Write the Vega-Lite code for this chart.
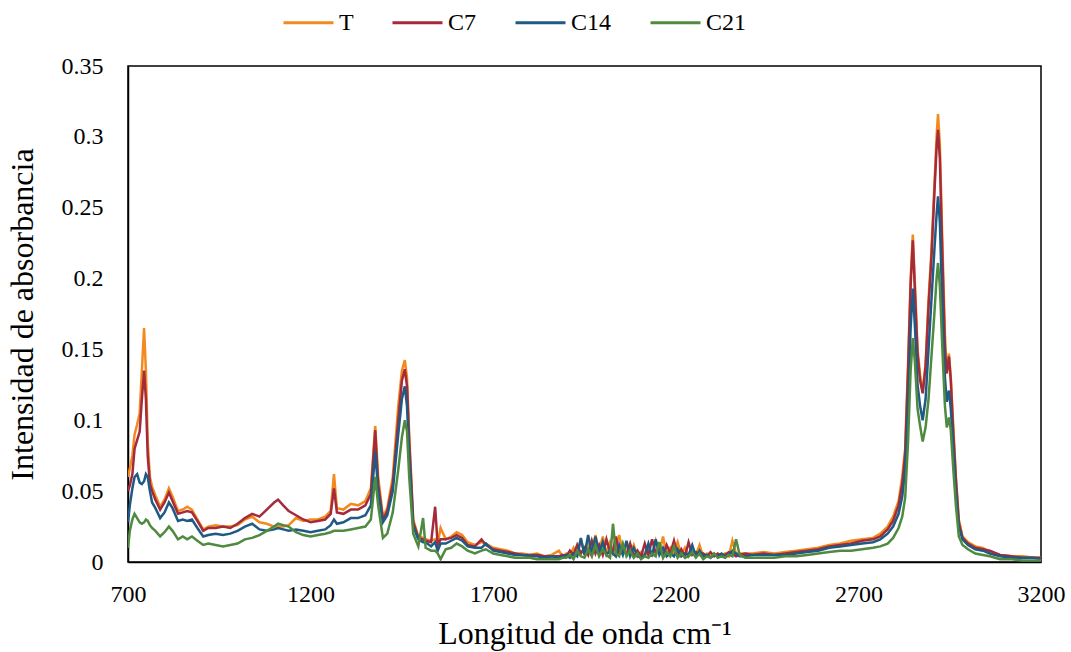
{
  "$schema": "https://vega.github.io/schema/vega-lite/v6.json",
  "width": 913,
  "height": 496,
  "autosize": {"type": "none"},
  "padding": {"left": 128, "top": 66, "right": 30, "bottom": 90},
  "background": "white",
  "config": {
    "font": "Liberation Serif",
    "view": {"stroke": "#000000", "strokeWidth": 1.5},
    "axis": {"grid": false, "domainColor": "#000000", "domainWidth": 1.5, "ticks": false, "labelFont": "Liberation Serif", "labelFontSize": 24, "labelColor": "#000000", "labelFlush": false, "labelOverlap": false, "titleFont": "Liberation Serif", "titleFontSize": 32, "titleFontWeight": "normal", "titleColor": "#000000"}
  },
  "data": {
    "values": [
      {"w":700,"T":0.060,"C7":0.050,"C14":0.028,"C21":0.010},
      {"w":705,"T":0.066,"C7":0.054,"C14":0.040,"C21":0.022},
      {"w":712,"T":0.075,"C7":0.062,"C14":0.052,"C21":0.030},
      {"w":718,"T":0.090,"C7":0.080,"C14":0.060,"C21":0.034},
      {"w":725,"T":0.097,"C7":0.086,"C14":0.062,"C21":0.031},
      {"w":732,"T":0.105,"C7":0.092,"C14":0.056,"C21":0.028},
      {"w":738,"T":0.135,"C7":0.115,"C14":0.055,"C21":0.027},
      {"w":744,"T":0.165,"C7":0.135,"C14":0.057,"C21":0.028},
      {"w":749,"T":0.135,"C7":0.115,"C14":0.062,"C21":0.030},
      {"w":754,"T":0.085,"C7":0.075,"C14":0.060,"C21":0.029},
      {"w":760,"T":0.060,"C7":0.055,"C14":0.050,"C21":0.026},
      {"w":766,"T":0.053,"C7":0.050,"C14":0.042,"C21":0.024},
      {"w":775,"T":0.047,"C7":0.044,"C14":0.038,"C21":0.022},
      {"w":788,"T":0.039,"C7":0.037,"C14":0.031,"C21":0.018},
      {"w":800,"T":0.044,"C7":0.042,"C14":0.035,"C21":0.021},
      {"w":812,"T":0.052,"C7":0.049,"C14":0.042,"C21":0.025},
      {"w":822,"T":0.046,"C7":0.043,"C14":0.038,"C21":0.022},
      {"w":837,"T":0.036,"C7":0.034,"C14":0.029,"C21":0.016},
      {"w":850,"T":0.037,"C7":0.035,"C14":0.030,"C21":0.018},
      {"w":862,"T":0.039,"C7":0.036,"C14":0.029,"C21":0.016},
      {"w":875,"T":0.037,"C7":0.035,"C14":0.030,"C21":0.018},
      {"w":890,"T":0.030,"C7":0.029,"C14":0.024,"C21":0.015},
      {"w":906,"T":0.023,"C7":0.022,"C14":0.018,"C21":0.012},
      {"w":920,"T":0.025,"C7":0.024,"C14":0.019,"C21":0.013},
      {"w":940,"T":0.026,"C7":0.024,"C14":0.020,"C21":0.012},
      {"w":960,"T":0.025,"C7":0.025,"C14":0.019,"C21":0.011},
      {"w":980,"T":0.025,"C7":0.024,"C14":0.020,"C21":0.012},
      {"w":1000,"T":0.026,"C7":0.027,"C14":0.022,"C21":0.013},
      {"w":1020,"T":0.030,"C7":0.031,"C14":0.025,"C21":0.016},
      {"w":1040,"T":0.032,"C7":0.034,"C14":0.027,"C21":0.017},
      {"w":1060,"T":0.028,"C7":0.032,"C14":0.023,"C21":0.019},
      {"w":1080,"T":0.027,"C7":0.037,"C14":0.022,"C21":0.022},
      {"w":1100,"T":0.025,"C7":0.042,"C14":0.023,"C21":0.025},
      {"w":1111,"T":0.025,"C7":0.044,"C14":0.024,"C21":0.027},
      {"w":1125,"T":0.025,"C7":0.040,"C14":0.023,"C21":0.026},
      {"w":1140,"T":0.026,"C7":0.036,"C14":0.022,"C21":0.025},
      {"w":1160,"T":0.031,"C7":0.033,"C14":0.023,"C21":0.021},
      {"w":1180,"T":0.029,"C7":0.030,"C14":0.022,"C21":0.019},
      {"w":1200,"T":0.030,"C7":0.028,"C14":0.021,"C21":0.018},
      {"w":1220,"T":0.030,"C7":0.029,"C14":0.022,"C21":0.019},
      {"w":1240,"T":0.032,"C7":0.030,"C14":0.023,"C21":0.020},
      {"w":1255,"T":0.036,"C7":0.034,"C14":0.026,"C21":0.021},
      {"w":1264,"T":0.062,"C7":0.052,"C14":0.030,"C21":0.022},
      {"w":1272,"T":0.038,"C7":0.035,"C14":0.027,"C21":0.022},
      {"w":1290,"T":0.037,"C7":0.034,"C14":0.028,"C21":0.022},
      {"w":1310,"T":0.041,"C7":0.037,"C14":0.031,"C21":0.023},
      {"w":1330,"T":0.040,"C7":0.037,"C14":0.031,"C21":0.024},
      {"w":1350,"T":0.043,"C7":0.040,"C14":0.033,"C21":0.025},
      {"w":1365,"T":0.052,"C7":0.048,"C14":0.040,"C21":0.030},
      {"w":1377,"T":0.096,"C7":0.093,"C14":0.078,"C21":0.060},
      {"w":1385,"T":0.060,"C7":0.055,"C14":0.050,"C21":0.040},
      {"w":1398,"T":0.032,"C7":0.030,"C14":0.028,"C21":0.017},
      {"w":1410,"T":0.038,"C7":0.036,"C14":0.033,"C21":0.020},
      {"w":1425,"T":0.060,"C7":0.055,"C14":0.050,"C21":0.035},
      {"w":1440,"T":0.110,"C7":0.100,"C14":0.090,"C21":0.065},
      {"w":1450,"T":0.135,"C7":0.128,"C14":0.115,"C21":0.088},
      {"w":1458,"T":0.1425,"C7":0.136,"C14":0.124,"C21":0.100},
      {"w":1464,"T":0.130,"C7":0.124,"C14":0.110,"C21":0.092},
      {"w":1470,"T":0.090,"C7":0.085,"C14":0.075,"C21":0.060},
      {"w":1481,"T":0.030,"C7":0.028,"C14":0.025,"C21":0.020},
      {"w":1495,"T":0.018,"C7":0.017,"C14":0.016,"C21":0.011},
      {"w":1508,"T":0.017,"C7":0.016,"C14":0.014,"C21":0.031},
      {"w":1515,"T":0.016,"C7":0.015,"C14":0.014,"C21":0.010},
      {"w":1530,"T":0.015,"C7":0.014,"C14":0.011,"C21":0.008},
      {"w":1541,"T":0.016,"C7":0.039,"C14":0.014,"C21":0.008},
      {"w":1548,"T":0.013,"C7":0.012,"C14":0.008,"C21":0.006},
      {"w":1556,"T":0.024,"C7":0.016,"C14":0.013,"C21":0.002},
      {"w":1570,"T":0.016,"C7":0.016,"C14":0.013,"C21":0.009},
      {"w":1585,"T":0.018,"C7":0.017,"C14":0.015,"C21":0.010},
      {"w":1600,"T":0.021,"C7":0.019,"C14":0.017,"C21":0.013},
      {"w":1615,"T":0.019,"C7":0.017,"C14":0.015,"C21":0.011},
      {"w":1630,"T":0.014,"C7":0.012,"C14":0.011,"C21":0.008},
      {"w":1650,"T":0.012,"C7":0.011,"C14":0.010,"C21":0.006},
      {"w":1668,"T":0.014,"C7":0.016,"C14":0.010,"C21":0.008},
      {"w":1680,"T":0.013,"C7":0.012,"C14":0.013,"C21":0.009},
      {"w":1700,"T":0.010,"C7":0.009,"C14":0.008,"C21":0.006},
      {"w":1720,"T":0.009,"C7":0.008,"C14":0.007,"C21":0.005},
      {"w":1740,"T":0.008,"C7":0.007,"C14":0.006,"C21":0.004},
      {"w":1760,"T":0.006,"C7":0.006,"C14":0.005,"C21":0.003},
      {"w":1780,"T":0.006,"C7":0.005,"C14":0.005,"C21":0.003},
      {"w":1800,"T":0.005,"C7":0.005,"C14":0.004,"C21":0.003},
      {"w":1820,"T":0.006,"C7":0.005,"C14":0.004,"C21":0.002},
      {"w":1840,"T":0.004,"C7":0.004,"C14":0.003,"C21":0.002},
      {"w":1860,"T":0.005,"C7":0.004,"C14":0.004,"C21":0.002},
      {"w":1880,"T":0.008,"C7":0.004,"C14":0.003,"C21":0.002},
      {"w":1890,"T":0.004,"C7":0.005,"C14":0.004,"C21":0.003},
      {"w":1900,"T":0.006,"C7":0.004,"C14":0.005,"C21":0.003},
      {"w":1910,"T":0.004,"C7":0.008,"C14":0.003,"C21":0.005},
      {"w":1920,"T":0.010,"C7":0.005,"C14":0.006,"C21":0.002},
      {"w":1930,"T":0.005,"C7":0.012,"C14":0.004,"C21":0.008},
      {"w":1940,"T":0.016,"C7":0.006,"C14":0.017,"C21":0.004},
      {"w":1950,"T":0.006,"C7":0.010,"C14":0.005,"C21":0.003},
      {"w":1960,"T":0.012,"C7":0.005,"C14":0.019,"C21":0.009},
      {"w":1970,"T":0.005,"C7":0.015,"C14":0.006,"C21":0.004},
      {"w":1980,"T":0.019,"C7":0.006,"C14":0.018,"C21":0.012},
      {"w":1990,"T":0.007,"C7":0.012,"C14":0.006,"C21":0.004},
      {"w":2000,"T":0.018,"C7":0.005,"C14":0.014,"C21":0.009},
      {"w":2010,"T":0.006,"C7":0.016,"C14":0.005,"C21":0.005},
      {"w":2020,"T":0.014,"C7":0.007,"C14":0.008,"C21":0.003},
      {"w":2028,"T":0.006,"C7":0.008,"C14":0.006,"C21":0.027},
      {"w":2036,"T":0.010,"C7":0.018,"C14":0.004,"C21":0.006},
      {"w":2045,"T":0.019,"C7":0.006,"C14":0.012,"C21":0.004},
      {"w":2055,"T":0.006,"C7":0.010,"C14":0.005,"C21":0.013},
      {"w":2065,"T":0.011,"C7":0.005,"C14":0.015,"C21":0.004},
      {"w":2075,"T":0.005,"C7":0.013,"C14":0.004,"C21":0.008},
      {"w":2085,"T":0.012,"C7":0.004,"C14":0.010,"C21":0.003},
      {"w":2095,"T":0.004,"C7":0.008,"C14":0.004,"C21":0.006},
      {"w":2105,"T":0.007,"C7":0.004,"C14":0.003,"C21":0.002},
      {"w":2115,"T":0.004,"C7":0.013,"C14":0.005,"C21":0.004},
      {"w":2125,"T":0.009,"C7":0.005,"C14":0.013,"C21":0.003},
      {"w":2135,"T":0.005,"C7":0.016,"C14":0.004,"C21":0.006},
      {"w":2145,"T":0.015,"C7":0.006,"C14":0.016,"C21":0.004},
      {"w":2155,"T":0.006,"C7":0.011,"C14":0.005,"C21":0.014},
      {"w":2165,"T":0.018,"C7":0.004,"C14":0.010,"C21":0.003},
      {"w":2175,"T":0.005,"C7":0.012,"C14":0.004,"C21":0.007},
      {"w":2185,"T":0.010,"C7":0.006,"C14":0.006,"C21":0.004},
      {"w":2195,"T":0.006,"C7":0.015,"C14":0.004,"C21":0.011},
      {"w":2205,"T":0.014,"C7":0.005,"C14":0.009,"C21":0.003},
      {"w":2215,"T":0.005,"C7":0.009,"C14":0.004,"C21":0.006},
      {"w":2225,"T":0.010,"C7":0.004,"C14":0.006,"C21":0.003},
      {"w":2235,"T":0.004,"C7":0.014,"C14":0.005,"C21":0.004},
      {"w":2245,"T":0.008,"C7":0.005,"C14":0.012,"C21":0.007},
      {"w":2255,"T":0.005,"C7":0.007,"C14":0.004,"C21":0.003},
      {"w":2265,"T":0.012,"C7":0.005,"C14":0.008,"C21":0.006},
      {"w":2275,"T":0.004,"C7":0.006,"C14":0.004,"C21":0.002},
      {"w":2285,"T":0.006,"C7":0.004,"C14":0.005,"C21":0.004},
      {"w":2295,"T":0.004,"C7":0.007,"C14":0.003,"C21":0.003},
      {"w":2305,"T":0.006,"C7":0.004,"C14":0.005,"C21":0.006},
      {"w":2315,"T":0.004,"C7":0.006,"C14":0.004,"C21":0.003},
      {"w":2325,"T":0.005,"C7":0.004,"C14":0.006,"C21":0.004},
      {"w":2335,"T":0.006,"C7":0.005,"C14":0.004,"C21":0.003},
      {"w":2345,"T":0.004,"C7":0.007,"C14":0.005,"C21":0.005},
      {"w":2355,"T":0.015,"C7":0.006,"C14":0.008,"C21":0.004},
      {"w":2365,"T":0.006,"C7":0.004,"C14":0.006,"C21":0.016},
      {"w":2375,"T":0.006,"C7":0.005,"C14":0.004,"C21":0.005},
      {"w":2390,"T":0.006,"C7":0.006,"C14":0.004,"C21":0.003},
      {"w":2410,"T":0.006,"C7":0.005,"C14":0.005,"C21":0.003},
      {"w":2440,"T":0.007,"C7":0.006,"C14":0.005,"C21":0.003},
      {"w":2470,"T":0.006,"C7":0.005,"C14":0.005,"C21":0.003},
      {"w":2500,"T":0.007,"C7":0.006,"C14":0.005,"C21":0.004},
      {"w":2530,"T":0.008,"C7":0.007,"C14":0.006,"C21":0.004},
      {"w":2560,"T":0.009,"C7":0.008,"C14":0.007,"C21":0.005},
      {"w":2590,"T":0.010,"C7":0.009,"C14":0.008,"C21":0.006},
      {"w":2620,"T":0.012,"C7":0.011,"C14":0.010,"C21":0.007},
      {"w":2650,"T":0.013,"C7":0.012,"C14":0.011,"C21":0.008},
      {"w":2680,"T":0.015,"C7":0.013,"C14":0.012,"C21":0.008},
      {"w":2710,"T":0.016,"C7":0.015,"C14":0.013,"C21":0.009},
      {"w":2740,"T":0.017,"C7":0.016,"C14":0.014,"C21":0.010},
      {"w":2760,"T":0.020,"C7":0.018,"C14":0.016,"C21":0.011},
      {"w":2780,"T":0.025,"C7":0.023,"C14":0.020,"C21":0.013},
      {"w":2795,"T":0.032,"C7":0.029,"C14":0.025,"C21":0.017},
      {"w":2810,"T":0.043,"C7":0.040,"C14":0.034,"C21":0.024},
      {"w":2820,"T":0.060,"C7":0.055,"C14":0.046,"C21":0.032},
      {"w":2828,"T":0.080,"C7":0.076,"C14":0.065,"C21":0.045},
      {"w":2836,"T":0.140,"C7":0.135,"C14":0.110,"C21":0.085},
      {"w":2843,"T":0.200,"C7":0.195,"C14":0.165,"C21":0.135},
      {"w":2849,"T":0.231,"C7":0.227,"C14":0.193,"C21":0.158},
      {"w":2855,"T":0.195,"C7":0.190,"C14":0.165,"C21":0.140},
      {"w":2862,"T":0.150,"C7":0.147,"C14":0.125,"C21":0.108},
      {"w":2869,"T":0.132,"C7":0.128,"C14":0.110,"C21":0.096},
      {"w":2876,"T":0.120,"C7":0.119,"C14":0.100,"C21":0.085},
      {"w":2884,"T":0.140,"C7":0.138,"C14":0.115,"C21":0.095},
      {"w":2892,"T":0.185,"C7":0.180,"C14":0.150,"C21":0.115},
      {"w":2900,"T":0.220,"C7":0.215,"C14":0.185,"C21":0.145},
      {"w":2908,"T":0.265,"C7":0.260,"C14":0.220,"C21":0.175},
      {"w":2914,"T":0.300,"C7":0.292,"C14":0.245,"C21":0.200},
      {"w":2918,"T":0.316,"C7":0.305,"C14":0.258,"C21":0.211},
      {"w":2923,"T":0.295,"C7":0.285,"C14":0.240,"C21":0.195},
      {"w":2930,"T":0.225,"C7":0.215,"C14":0.180,"C21":0.150},
      {"w":2937,"T":0.160,"C7":0.150,"C14":0.130,"C21":0.110},
      {"w":2942,"T":0.135,"C7":0.133,"C14":0.113,"C21":0.095},
      {"w":2948,"T":0.147,"C7":0.145,"C14":0.121,"C21":0.102},
      {"w":2953,"T":0.130,"C7":0.128,"C14":0.108,"C21":0.093},
      {"w":2960,"T":0.095,"C7":0.090,"C14":0.080,"C21":0.065},
      {"w":2967,"T":0.060,"C7":0.058,"C14":0.050,"C21":0.040},
      {"w":2975,"T":0.030,"C7":0.028,"C14":0.025,"C21":0.018},
      {"w":2985,"T":0.018,"C7":0.017,"C14":0.016,"C21":0.012},
      {"w":3000,"T":0.014,"C7":0.013,"C14":0.012,"C21":0.009},
      {"w":3020,"T":0.011,"C7":0.010,"C14":0.009,"C21":0.006},
      {"w":3041,"T":0.010,"C7":0.009,"C14":0.008,"C21":0.005},
      {"w":3060,"T":0.007,"C7":0.008,"C14":0.006,"C21":0.004},
      {"w":3088,"T":0.005,"C7":0.005,"C14":0.004,"C21":0.002},
      {"w":3120,"T":0.004,"C7":0.004,"C14":0.003,"C21":0.002},
      {"w":3150,"T":0.004,"C7":0.003,"C14":0.003,"C21":0.001},
      {"w":3180,"T":0.003,"C7":0.003,"C14":0.003,"C21":0.001},
      {"w":3200,"T":0.003,"C7":0.003,"C14":0.002,"C21":0.001}
    ]
  },
  "transform": [{"fold": ["T", "C7", "C14", "C21"], "as": ["serie", "abs"]}],
  "mark": {"type": "line", "strokeWidth": 2.5, "clip": true},
  "encoding": {
    "x": {"field": "w", "type": "quantitative", "scale": {"domain": [700, 3200], "nice": false},
      "axis": {"values": [700, 1200, 1700, 2200, 2700, 3200], "format": "d", "labelPadding": 20, "title": "Longitud de onda cm⁻¹", "titlePadding": 12}},
    "y": {"field": "abs", "type": "quantitative", "scale": {"domain": [0, 0.35], "nice": false},
      "axis": {"values": [0, 0.05, 0.1, 0.15, 0.2, 0.25, 0.3, 0.35], "format": ".2~f", "labelPadding": 25, "title": "Intensidad de absorbancia", "titlePadding": 22}},
    "color": {"field": "serie", "type": "nominal",
      "scale": {"domain": ["T", "C7", "C14", "C21"], "range": ["#F28A1E", "#A52A3A", "#1F5A85", "#4F8A40"]},
      "legend": {"title": null, "orient": "none", "direction": "horizontal", "legendX": 154, "legendY": -70, "symbolType": "stroke", "symbolSize": 2500, "symbolStrokeWidth": 3, "labelFontSize": 24, "labelFont": "Liberation Serif", "labelColor": "#000000", "labelOffset": 4, "columnPadding": 32}},
    "order": {"value": 0}
  }
}
